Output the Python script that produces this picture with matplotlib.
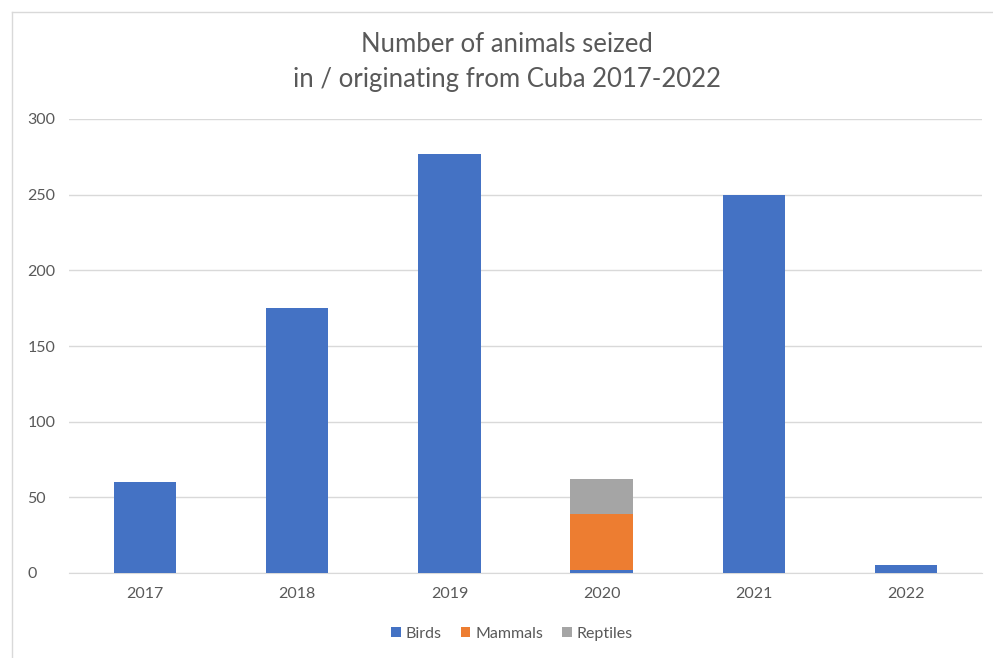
import matplotlib
matplotlib.use('Agg')
import matplotlib.pyplot as plt
import numpy as np

years = ['2017', '2018', '2019', '2020', '2021', '2022']
birds = [60, 175, 277, 2, 250, 5]
mammals = [0, 0, 0, 37, 0, 0]
reptiles = [0, 0, 0, 23, 0, 0]

plt.rcParams['font.family'] = ['Lato', 'DejaVu Sans']

fig = plt.figure(figsize=(9.93, 6.58), dpi=100)
ax = fig.add_axes([69/993, 1 - 573/658, (982 - 69)/993, (573 - 119)/658])

x = np.arange(len(years))
w = 0.41
b = np.array(birds)
m = np.array(mammals)
r = np.array(reptiles)
ax.bar(x, b, w, color='#4472C4', label='Birds', zorder=3)
ax.bar(x, m, w, bottom=b, color='#ED7D31', label='Mammals', zorder=3)
ax.bar(x, r, w, bottom=b + m, color='#A5A5A5', label='Reptiles', zorder=3)

ax.set_xlim(-0.5, len(years) - 0.5)
ax.set_ylim(0, 300)
ax.set_yticks(range(0, 301, 50))
ax.set_xticks(x)
ax.set_xticklabels(years)
ax.yaxis.grid(True, color='#D9D9D9', linewidth=1)
ax.set_axisbelow(True)
for s in ['top', 'right', 'left']:
    ax.spines[s].set_visible(False)
ax.spines['bottom'].set_color('#D9D9D9')
ax.tick_params(axis='both', length=0, labelsize=11.5, labelcolor='#595959')
ax.tick_params(axis='x', pad=10)
ax.tick_params(axis='y', pad=30)
for lbl in ax.get_yticklabels():
    lbl.set_horizontalalignment('left')

# title, two centred lines
fig.text(507/993, 1 - 44/658, 'Number of animals seized', fontsize=18.5,
         color='#595959', ha='center', va='center')
fig.text(507/993, 1 - 79/658, 'in / originating from Cuba 2017-2022', fontsize=18.5,
         color='#595959', ha='center', va='center')

fig.legend(loc='center', bbox_to_anchor=(512/993, 1 - 634/658), ncol=3,
           frameon=False, fontsize=11.5, handlelength=0.6, handleheight=0.6,
           handletextpad=0.3, columnspacing=1.2, labelcolor='#595959')

# light frame around the chart area
fig.add_artist(plt.Line2D([12/993, 1], [1 - 12/658, 1 - 12/658], color='#D9D9D9', lw=1))
fig.add_artist(plt.Line2D([12/993, 12/993], [0, 1 - 12/658], color='#D9D9D9', lw=1))

fig.savefig('out.png', dpi=100, facecolor='white')
